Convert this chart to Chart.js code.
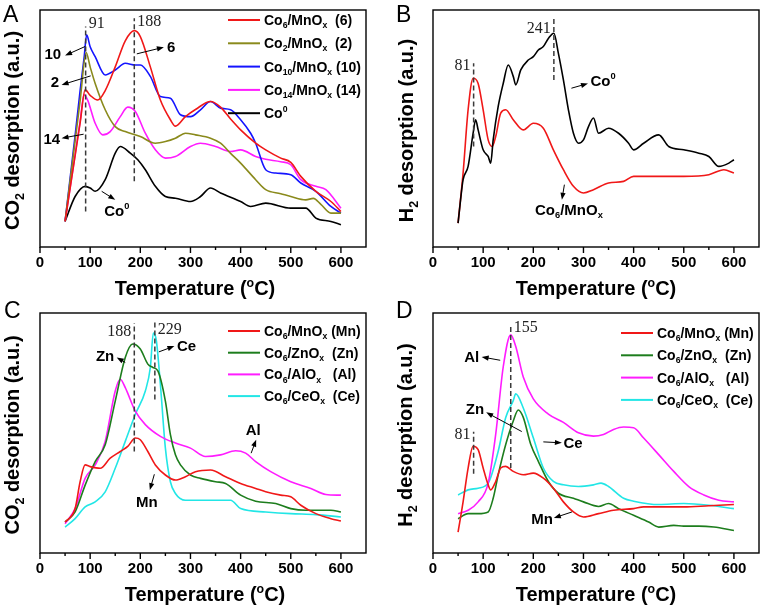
<!DOCTYPE html>
<html>
<head>
<meta charset="utf-8">
<script src="https://cdn.jsdelivr.net/npm/chart.js@4.4.1/dist/chart.umd.min.js"></script>
<style>
  html, body { margin: 0; padding: 0; background: #fff; }
  #wrap { position: relative; width: 762px; height: 609px; overflow: hidden; }
  canvas { position: absolute; }
</style>
</head>
<body>
<div id="wrap">
  <canvas id="cA" width="381" height="300" style="left:0;top:0"></canvas>
  <canvas id="cB" width="381" height="300" style="left:381px;top:0"></canvas>
  <canvas id="cC" width="381" height="309" style="left:0;top:300px"></canvas>
  <canvas id="cD" width="381" height="309" style="left:381px;top:300px"></canvas>
</div>
<script>
// [temperature °C, signal a.u.]
var aCo6 = [[50,10.8],[60,24.7],[70,38.6],[80,52.4],[90,66.3],[100,64],[115,62],[130,66],[150,76],[170,87],[188,91.3],[200,88.8],[220,76],[240,62],[260,53.7],[270,51],[290,55],[310,58],[340,61.4],[360,59],[380,54],[400,49.4],[430,43.8],[450,41],[480,37.5],[500,35.7],[520,29.8],[550,23.5],[580,19.2],[600,15]];
var aCo2 = [[50,10.8],[60,27.8],[70,44.7],[80,61.7],[92,82],[100,76],[110,69],[130,57.9],[150,50.8],[170,48.7],[200,46.6],[230,43.8],[250,44.5],[270,45.9],[290,48],[310,47.3],[340,45.9],[360,43.8],[380,39.5],[400,35.4],[430,28.4],[450,24.2],[480,22.5],[500,21.3],[530,19.9],[545,20.5],[560,18],[580,14.3],[600,14.3]];
var aCo10 = [[50,10.8],[60,29],[70,47],[80,66],[88,80],[93,89.5],[100,84.5],[110,80.3],[130,72.6],[150,74.7],[170,77.5],[190,76.8],[200,76.8],[220,72],[240,63.5],[260,62.8],[280,55.8],[300,55],[320,57.9],[340,61.4],[360,58.6],[380,57.9],[400,53.7],[420,48],[430,43.8],[450,32.6],[470,31.2],[500,30.5],[520,27],[550,23.5],[580,17.1],[600,14.3]];
var aCo14 = [[50,10.8],[60,24.9],[70,39],[80,53],[88,64.2],[95,62],[110,52.2],[125,47.3],[140,48.7],[160,55],[175,59],[190,57.2],[210,48],[230,41],[250,37.5],[270,38.2],[300,42.4],[320,43.8],[350,42.4],[380,40.3],[400,41],[430,38.2],[450,37],[480,36],[500,34.7],[520,28.4],[550,25.6],[570,24.2],[600,16.4]];
var aCo0 = [[50,10.8],[70,21.3],[90,25.6],[100,24.9],[110,23.5],[130,28.4],[150,39.6],[160,42.4],[180,39.6],[195,36.8],[210,32.6],[230,25.6],[250,21.3],[270,20.6],[300,19.2],[320,21.3],[340,24.9],[360,22.8],[400,19.2],[420,17.1],[450,18.5],[500,16.4],[530,16.4],[550,12.2],[580,10.8],[600,9.4]];

var bCo0 = [[50,10.1],[55,20],[60,28.4],[70,34],[80,48],[85,53.7],[90,49.4],[100,41],[110,38.2],[115,35.4],[120,45.2],[130,59.3],[140,69],[150,76.8],[160,72],[165,68.4],[175,74.7],[190,78.9],[200,80.3],[210,83.1],[220,84.6],[230,88],[241,90.2],[250,81.7],[260,70.5],[270,57.9],[280,48],[290,43.8],[300,45.2],[310,50.8],[320,54.4],[330,48],[350,50.1],[370,48],[390,43.8],[400,41],[420,43.8],[450,47.3],[470,42.4],[500,41],[530,39.6],[550,38.2],[570,34],[590,35.4],[600,36.8]];
var bCo6 = [[50,10.1],[60,31.2],[70,57.9],[80,71.2],[90,69],[100,57.9],[110,45.2],[118,42.4],[125,46.6],[135,56.5],[145,57.9],[160,53.7],[180,49.4],[200,52.2],[220,50.1],[240,41],[260,32.6],[280,25.6],[300,22.8],[320,24.2],[350,27],[380,27.7],[400,29.8],[450,29.8],[500,29.8],[550,30.5],[580,32.6],[600,31.2]];

var cMn = [[50,12.9],[70,18.5],[80,29.7],[90,36.7],[100,36],[120,35.3],[140,39.5],[160,42.3],[175,44.4],[190,47.9],[200,47.2],[215,42.3],[230,36.7],[250,32.5],[270,30.4],[290,31.8],[310,33.9],[340,34.6],[370,31.8],[400,29],[430,26.9],[450,25.5],[480,24.1],[500,23.4],[520,19.9],[550,16.4],[580,14.3],[600,13.3]];
var cZn = [[50,12.9],[70,17.1],[90,28.3],[110,38.1],[130,45.1],[150,63.3],[170,81.5],[185,87.1],[200,85],[215,78.7],[225,77.3],[235,75.9],[250,63.3],[260,49.3],[270,40.9],[280,36.7],[300,32.5],[320,31.1],[350,29.7],[370,29],[400,24.1],[430,21.6],[470,20.6],[500,18.5],[530,17.8],[550,17.8],[580,17.8],[600,17.1]];
var cAl = [[50,12.2],[70,18.5],[90,31.1],[110,36.7],[130,46.5],[150,67.5],[160,72.4],[170,68.9],[190,59.1],[210,53.5],[240,48.6],[270,45.8],[300,43.7],[330,40.2],[360,40.9],[390,42.6],[410,41.6],[430,38.1],[460,33.9],[500,29.7],[540,26.9],[570,24.4],[600,24.1]];
var cCe = [[50,10.8],[70,14.3],[90,19.2],[110,21.3],[130,25.5],[150,35.3],[170,46.5],[190,57.7],[210,67.5],[220,77.3],[226,91.6],[232,88.5],[240,70.3],[250,43.7],[260,29.7],[270,24.8],[290,22],[320,22],[350,22],[380,22],[400,18.5],[450,17.1],[500,16.4],[550,16],[600,15]];

var dMn = [[50,8.7],[60,21.3],[70,35.4],[80,44.5],[90,43.1],[100,35.4],[110,28.4],[115,26.3],[125,29.8],[135,35.4],[145,36.1],[160,34],[180,32.6],[200,33.3],[220,31.2],[240,27],[260,21.3],[280,17.1],[300,15],[330,16.4],[360,17.8],[400,18.5],[420,19.2],[450,19.2],[500,19.2],[550,19.7],[600,20.2]];
var dZn = [[50,14.3],[70,16.4],[90,16.4],[110,17.1],[120,22.8],[130,32.6],[145,45.2],[160,55],[170,59.6],[180,56.5],[195,45.2],[210,38.2],[230,29.8],[250,24.9],[280,22.8],[300,21.3],[330,19.4],[350,20.6],[370,18.5],[400,15.7],[430,12.9],[450,10.8],[480,11.5],[500,11.2],[530,11.2],[560,10.8],[600,9.4]];
var dAl = [[50,16.4],[70,17.8],[90,21.3],[110,29.1],[125,49.4],[140,77.5],[155,90.9],[165,86],[180,73.3],[200,64.2],[230,57.9],[260,54.4],[290,50.1],[320,48.7],[340,49.4],[360,51.5],[380,52.5],[400,52.2],[420,47.9],[450,41],[480,34],[510,27.7],[540,24.2],[570,22],[600,21.3]];
var dCe = [[50,24.2],[70,26.3],[90,27],[110,29.1],[130,42.4],[145,56.5],[160,63.5],[165,66.3],[180,60.4],[200,48],[220,35.4],[240,29.8],[260,28.4],[290,27.7],[320,28.4],[335,29.1],[350,27.7],[380,22.8],[400,21.6],[450,20.2],[500,20.6],[550,19.9],[600,18.5]];

// peak markers: [T, from, to, label, side, label height]
var marksA = [[91,15,93,'91','r',94],[188,27.7,96.5,'188','r',95]];
var marksB = [[81,42.4,77.5,'81','l',76.5],[241,70.5,96.5,'241','l',92]];
var marksC = [[188,42.3,95.8,'188','l',92],[229,64,96.6,'229','r',93]];
var marksD = [[155,35.4,94.4,'155','r',94],[81,33,50.5,'81','l',49.4]];

var SANS = "'Liberation Sans', Arial, sans-serif";
var SERIF = "'Liberation Serif', 'Times New Roman', serif";
var RED = '#f01818', OLIVE = '#8a8a1c', BLUE = '#1414ff', MAG = '#ff1cff', CYAN = '#22e6e6', GREEN = '#1d7d1d';

// text with _sub and ^sup
function rich(ctx, s, x, y, size, align) {
  var parts = [], i = 0;
  while (i < s.length) {
    var c = s[i];
    if (c === '_' || c === '^') {
      var t;
      if (s[i + 1] === '{') { var e = s.indexOf('}', i); t = s.slice(i + 2, e); i = e + 1; }
      else { t = s[i + 1]; i += 2; }
      parts.push({ t: t, k: c });
    } else {
      var j = i;
      while (j < s.length && s[j] !== '_' && s[j] !== '^') j++;
      parts.push({ t: s.slice(i, j), k: '' });
      i = j;
    }
  }
  var w = 0;
  parts.forEach(function (p) {
    p.sz = p.k ? size * 0.62 : size;
    ctx.font = 'bold ' + p.sz + 'px ' + SANS;
    p.w = ctx.measureText(p.t).width;
    w += p.w;
  });
  var cx = align === 'center' ? x - w / 2 : (align === 'right' ? x - w : x);
  var base = y + size * 0.36;
  ctx.textAlign = 'left';
  ctx.textBaseline = 'alphabetic';
  parts.forEach(function (p) {
    ctx.font = 'bold ' + p.sz + 'px ' + SANS;
    var by = base;
    if (p.k === '_') by = base + size * 0.22;
    if (p.k === '^') by = base - size * 0.42;
    ctx.fillText(p.t, cx, by);
    cx += p.w;
  });
}

function arrow(ctx, x1, y1, x2, y2) {
  var ang = Math.atan2(y2 - y1, x2 - x1);
  ctx.beginPath();
  ctx.moveTo(x1, y1);
  ctx.lineTo(x2 - 4 * Math.cos(ang), y2 - 4 * Math.sin(ang));
  ctx.stroke();
  ctx.beginPath();
  ctx.moveTo(x2, y2);
  ctx.lineTo(x2 - 7 * Math.cos(ang) + 2.6 * Math.sin(ang), y2 - 7 * Math.sin(ang) - 2.6 * Math.cos(ang));
  ctx.lineTo(x2 - 7 * Math.cos(ang) - 2.6 * Math.sin(ang), y2 - 7 * Math.sin(ang) + 2.6 * Math.cos(ang));
  ctx.closePath();
  ctx.fill();
}

function makeDeco(p) {
  return {
    id: 'deco' + p.id,
    afterDraw: function (chart) {
      var ctx = chart.ctx, a = chart.chartArea;
      var sx = chart.scales.x, sy = chart.scales.y;
      function X(v) { return sx.getPixelForValue(v); }
      function Y(v) { return sy.getPixelForValue(v); }
      ctx.save();
      ctx.fillStyle = '#000';
      ctx.strokeStyle = '#000';

      // frame and ticks
      ctx.lineWidth = 1.4;
      ctx.strokeRect(a.left, a.top, a.right - a.left, a.bottom - a.top);
      for (var t = 0; t <= 600; t += 50) {
        ctx.beginPath();
        ctx.moveTo(X(t), a.bottom);
        ctx.lineTo(X(t), a.bottom + (t % 100 ? 3 : 6));
        ctx.stroke();
      }

      // dashed peak lines
      ctx.strokeStyle = '#3a3a3a';
      ctx.lineWidth = 1.5;
      ctx.setLineDash([5, 3]);
      p.marks.forEach(function (m) {
        ctx.beginPath();
        ctx.moveTo(X(m[0]), Y(m[1]));
        ctx.lineTo(X(m[0]), Y(m[2]));
        ctx.stroke();
      });
      ctx.setLineDash([]);
      ctx.fillStyle = '#222';
      ctx.font = '16px ' + SERIF;
      ctx.textBaseline = 'middle';
      p.marks.forEach(function (m) {
        ctx.textAlign = m[4] === 'r' ? 'left' : 'right';
        ctx.fillText(m[3], X(m[0]) + (m[4] === 'r' ? 3 : -3), Y(m[5]));
      });

      // arrows and their labels
      ctx.fillStyle = '#000';
      ctx.strokeStyle = '#000';
      ctx.lineWidth = 1;
      p.arrows.forEach(function (r) { arrow(ctx, X(r[0]), Y(r[1]), X(r[2]), Y(r[3])); });
      p.texts.forEach(function (r) { rich(ctx, r[0], X(r[1]), Y(r[2]), 15, r[3]); });

      // legend
      p.series.forEach(function (s, i) {
        if (!s[0]) return;
        var y = a.top + p.legTop + i * p.legGap;
        ctx.strokeStyle = s[2];
        ctx.lineWidth = 2;
        ctx.beginPath();
        ctx.moveTo(a.left + 188, y);
        ctx.lineTo(a.left + 220, y);
        ctx.stroke();
        ctx.fillStyle = '#000';
        rich(ctx, s[0], a.left + 224, y, 14, 'left');
      });

      // axis titles and panel letter
      ctx.fillStyle = '#000';
      rich(ctx, 'Temperature (^oC)', (a.left + a.right) / 2 + p.xdx, a.bottom + 41, 20, 'center');
      ctx.save();
      ctx.translate(p.ytx, (a.top + a.bottom) / 2 + 2);
      ctx.rotate(-Math.PI / 2);
      rich(ctx, p.yt, 0, 0, 20, 'center');
      ctx.restore();
      ctx.font = '23px ' + SANS;
      ctx.textAlign = 'left';
      ctx.textBaseline = 'alphabetic';
      ctx.fillText(p.letter, p.lx, p.ly);
      ctx.restore();
    }
  };
}

var panels = [
  { id: 'cA', letter: 'A', lx: 3, ly: 22, pad: { left: 40, top: 10, right: 15, bottom: 0 }, xh: 53,
    yt: 'CO_2 desorption (a.u.)', ytx: 12, xdx: -8, legTop: 10, legGap: 23.3,
    series: [['Co_6/MnO_x  (6)', aCo6, RED], ['Co_2/MnO_x  (2)', aCo2, OLIVE], ['Co_{10}/MnO_x (10)', aCo10, BLUE],
             ['Co_{14}/MnO_x (14)', aCo14, MAG], ['Co^0', aCo0, '#000']],
    marks: marksA,
    arrows: [[90, 84.6, 50, 80.8], [101, 72.2, 43, 68.4], [87, 47.6, 43, 45.9], [193, 81.5, 247, 84.3], [123, 23.5, 150, 19.9]],
    texts: [['10', 42, 81.7, 'right'], ['2', 38, 69.8, 'right'], ['14', 40, 45.9, 'right'], ['6', 253, 84.6, 'left'], ['Co^0', 128, 15.5, 'left']] },
  { id: 'cB', letter: 'B', lx: 15, ly: 22, pad: { left: 52, top: 10, right: 3, bottom: 0 }, xh: 53,
    yt: 'H_2 desorption (a.u.)', ytx: 25, xdx: 0, legTop: 0, legGap: 0,
    series: [['', bCo0, '#000'], ['', bCo6, RED]],
    marks: marksB,
    arrows: [[276, 67, 309, 69], [262, 26.3, 257, 19.9]],
    texts: [['Co^0', 314, 70.3, 'left'], ['Co_6/MnO_x', 271, 15.7, 'center']] },
  { id: 'cC', letter: 'C', lx: 4, ly: 18, pad: { left: 40, top: 13, right: 15, bottom: 0 }, xh: 56,
    yt: 'CO_2 desorption (a.u.)', ytx: 12, xdx: 2, legTop: 18, legGap: 21.7,
    series: [['Co_6/MnO_x (Mn)', cMn, RED], ['Co_6/ZnO_x  (Zn)', cZn, GREEN], ['Co_6/AlO_x   (Al)', cAl, MAG], ['Co_6/CeO_x  (Ce)', cCe, CYAN]],
    marks: marksC,
    arrows: [[170, 79.4, 153, 81.5], [237, 83.8, 268, 86.2], [421, 41.6, 431, 47.2], [228, 32.8, 219, 26.2]],
    texts: [['Zn', 148, 82.2, 'right'], ['Ce', 273, 86.6, 'left'], ['Al', 425, 51.4, 'center'], ['Mn', 213, 21.6, 'center']] },
  { id: 'cD', letter: 'D', lx: 15, ly: 18, pad: { left: 52, top: 13, right: 3, bottom: 0 }, xh: 56,
    yt: 'H_2 desorption (a.u.)', ytx: 24, xdx: 0, legTop: 20, legGap: 22.3,
    series: [['Co_6/MnO_x (Mn)', dMn, RED], ['Co_6/ZnO_x  (Zn)', dZn, GREEN], ['Co_6/AlO_x   (Al)', dAl, MAG], ['Co_6/CeO_x  (Ce)', dCe, CYAN]],
    marks: marksD,
    arrows: [[134, 80.3, 97, 81.7], [177, 50.6, 106, 58.6], [220, 46.3, 257, 45.9], [277, 17.1, 241, 14.6]],
    texts: [['Al', 92, 81.7, 'right'], ['Zn', 102, 60, 'right'], ['Ce', 260, 45.9, 'left'], ['Mn', 239, 14.3, 'right']] }
];

Chart.defaults.font.family = SANS;
Chart.defaults.color = '#000';

panels.forEach(function (p) {
  new Chart(document.getElementById(p.id), {
    type: 'line',
    data: {
      datasets: p.series.map(function (s) {
        return {
          label: s[0],
          data: s[1].map(function (q) { return { x: q[0], y: q[1] }; }),
          borderColor: s[2],
          borderWidth: 1.6,
          pointRadius: 0,
          fill: false,
          cubicInterpolationMode: 'monotone'
        };
      })
    },
    options: {
      responsive: false,
      animation: false,
      layout: { padding: p.pad },
      plugins: { legend: { display: false }, tooltip: { enabled: false } },
      scales: {
        x: {
          type: 'linear', min: 0, max: 650,
          grid: { display: false, drawTicks: false },
          border: { display: false },
          ticks: { stepSize: 100, includeBounds: false, autoSkip: false, maxRotation: 0, padding: 7,
                   color: '#000', font: { size: 15, weight: 'bold' } },
          afterFit: function (s) { s.height = p.xh; }
        },
        y: { display: false, min: 0, max: 100 }
      }
    },
    plugins: [makeDeco(p)]
  });
});
</script>
</body>
</html>
